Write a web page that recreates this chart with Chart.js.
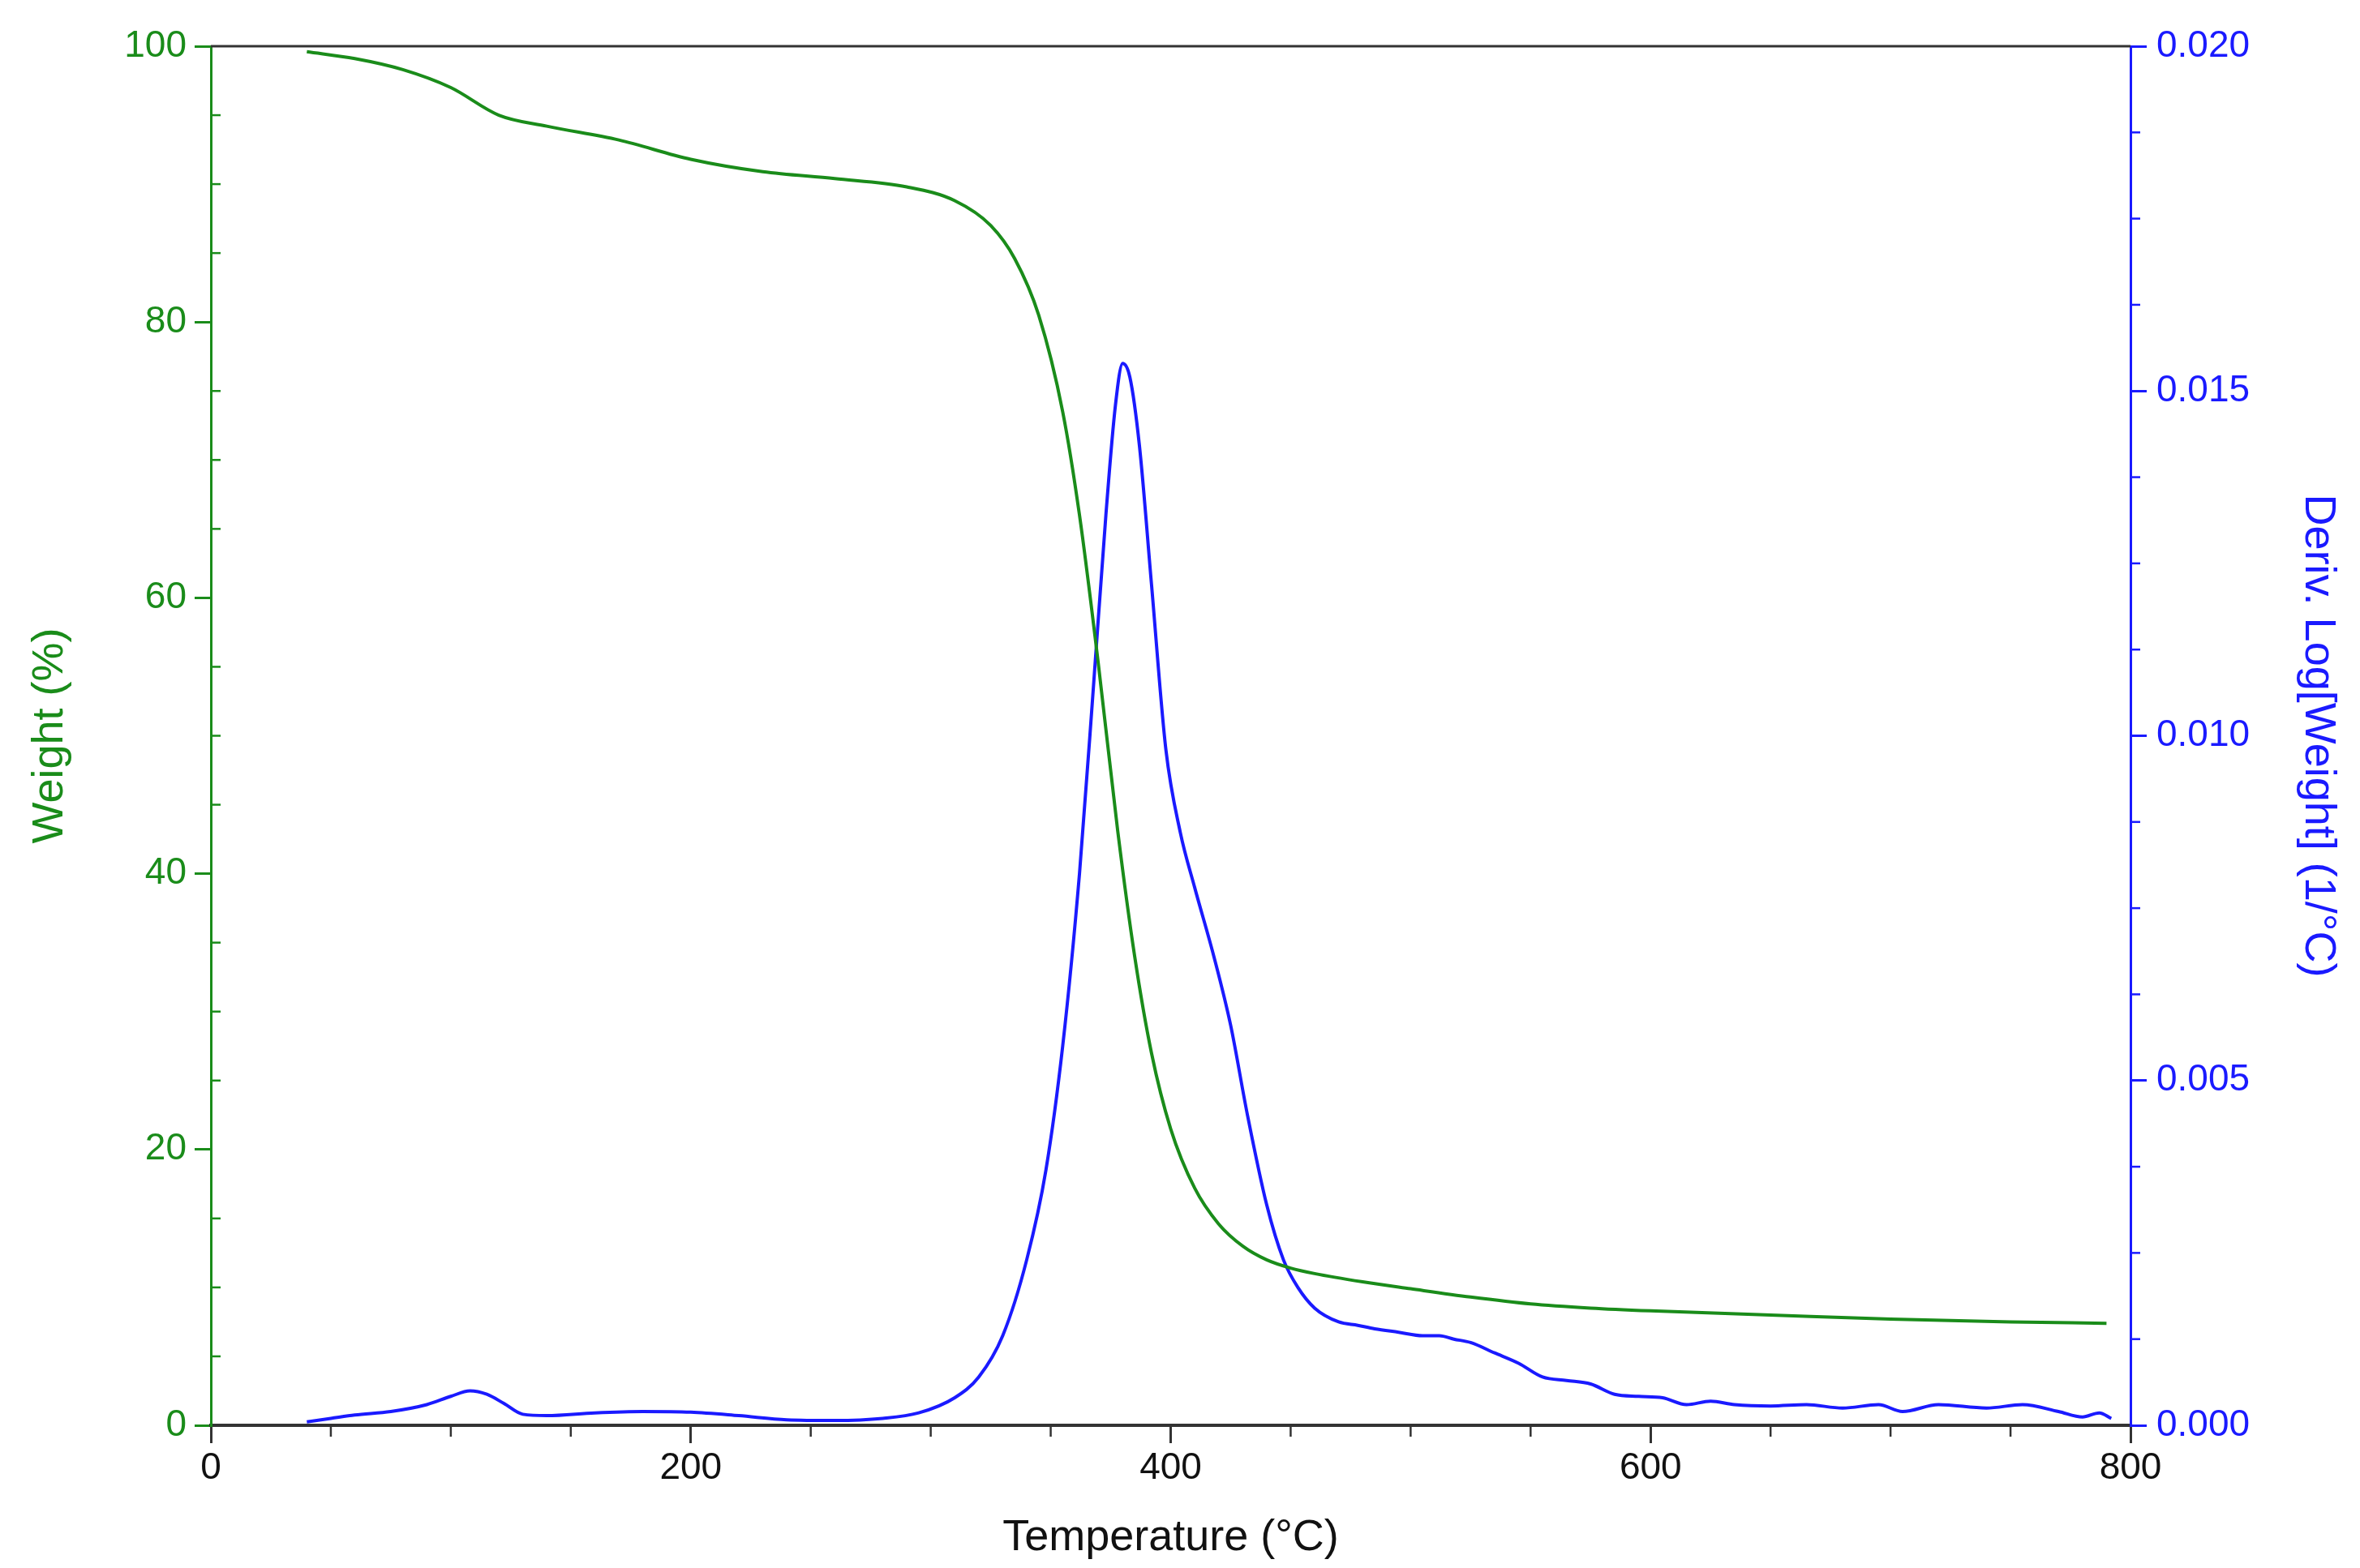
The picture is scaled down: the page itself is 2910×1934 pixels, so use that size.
<!DOCTYPE html>
<html>
<head>
<meta charset="utf-8">
<script src="https://cdn.jsdelivr.net/npm/chart.js@4"></script>
<style>
html, body { margin: 0; padding: 0; background: #fff; }
#wrap { width: 2910px; height: 1934px; }
</style>
</head>
<body>
<div id="wrap"><canvas id="tga"></canvas></div>
<script>
const tempWeight = [40, 60, 80, 100, 120, 140, 170, 200, 230, 260, 290, 310, 325, 335, 345, 355, 362, 370, 378, 385, 392, 400, 410, 420, 430, 440, 450, 460, 480, 500, 525, 550, 575, 600, 650, 700, 750, 790]
const weight = [99.6, 99.1, 98.3, 97.0, 95.0, 94.2, 93.2, 91.8, 90.9, 90.4, 89.8, 88.8, 87.0, 84.6, 80.5, 73.5, 66.0, 55.0, 43.0, 34.0, 27.0, 21.5, 17.2, 14.6, 13.0, 12.0, 11.4, 11.0, 10.4, 9.9, 9.3, 8.8, 8.5, 8.3, 8.0, 7.7, 7.5, 7.4]

const tempDeriv = [40, 50, 60, 75, 90, 100, 108, 115, 122, 130, 140, 160, 180, 200, 220, 240, 260, 280, 295, 310, 320, 330, 340, 348, 355, 362, 368, 373, 377, 380, 383, 387, 392, 398, 404, 410, 418, 425, 432, 440, 447, 453, 460, 470, 478, 485, 495, 505, 512, 518, 525, 535, 545, 555, 565, 575, 585, 595, 605, 615, 625, 635, 650, 665, 680, 695, 705, 720, 740, 755, 770, 780, 787, 792]
const deriv = [0.00005, 0.0001, 0.00015, 0.0002, 0.0003, 0.00042, 0.0005, 0.00045, 0.00032, 0.00016, 0.00014, 0.00018, 0.0002, 0.00019, 0.00014, 0.00008, 0.00007, 0.0001, 0.00018, 0.0004, 0.0007, 0.0013, 0.0024, 0.0037, 0.0055, 0.0080, 0.0108, 0.0132, 0.0148, 0.0154, 0.0152, 0.0142, 0.0122, 0.0098, 0.0086, 0.0078, 0.0068, 0.0058, 0.0045, 0.0032, 0.0024, 0.0020, 0.0017, 0.0015, 0.00145, 0.0014, 0.00135, 0.0013, 0.0013, 0.00125, 0.0012, 0.00105, 0.0009, 0.0007, 0.00065, 0.0006, 0.00045, 0.00042, 0.0004, 0.0003, 0.00035, 0.0003, 0.00028, 0.0003, 0.00025, 0.0003, 0.0002, 0.0003, 0.00025, 0.0003, 0.0002, 0.00012, 0.00018, 0.0001]

const xTicks = [0, 200, 400, 600, 800]
const weightTicks = [0, 20, 40, 60, 80, 100]
const derivTicks = [0, 0.005, 0.01, 0.015, 0.02]

const GREEN = '#1a8c1a'
const BLUE = '#1a1aff'
const FONT = 'Liberation Sans, Arial, sans-serif'

const toXY = (xs, ys) => xs.map((x, i) => ({ x, y: ys[i] }))

const frame = {
    id: 'frame',
    afterDraw(chart) {
        const { ctx, chartArea: a, scales } = chart
        ctx.save()
        ctx.lineWidth = 3
        ctx.strokeStyle = '#333'
        ctx.beginPath()
        ctx.moveTo(a.left, a.top)
        ctx.lineTo(a.right, a.top)
        ctx.stroke()
        // minor ticks
        ctx.lineWidth = 2.5
        for (let v = 50; v < 800; v += 50) {
            if (v % 200 === 0) continue
            const px = scales.x.getPixelForValue(v)
            ctx.beginPath(); ctx.moveTo(px, a.bottom); ctx.lineTo(px, a.bottom + 14); ctx.stroke()
        }
        ctx.strokeStyle = GREEN
        for (let v = 5; v < 100; v += 5) {
            if (v % 20 === 0) continue
            const py = scales.y.getPixelForValue(v)
            ctx.beginPath(); ctx.moveTo(a.left, py); ctx.lineTo(a.left + 12, py); ctx.stroke()
        }
        ctx.strokeStyle = BLUE
        for (let v = 0.00125; v < 0.02; v += 0.00125) {
            if (Math.abs(v / 0.005 - Math.round(v / 0.005)) < 1e-6) continue
            const py = scales.y2.getPixelForValue(v)
            ctx.beginPath(); ctx.moveTo(a.right, py); ctx.lineTo(a.right + 12, py); ctx.stroke()
        }
        ctx.restore()
    }
}

new Chart(document.getElementById('tga'), {
    type: 'line',
    data: {
        datasets: [
            { data: toXY(tempWeight, weight), yAxisID: 'y', borderColor: GREEN, borderWidth: 4, pointRadius: 0, cubicInterpolationMode: 'monotone' },
            { data: toXY(tempDeriv, deriv), yAxisID: 'y2', borderColor: BLUE, borderWidth: 4, pointRadius: 0, cubicInterpolationMode: 'monotone' }
        ]
    },
    plugins: [frame],
    options: {
        responsive: true,
        maintainAspectRatio: false,
        animation: false,
        devicePixelRatio: 1,
        layout: { padding: { top: 57, right: 0, left: 0, bottom: 0 } },
        plugins: { legend: { display: false }, tooltip: { enabled: false } },
        scales: {
            x: {
                type: 'linear', min: 0, max: 800,
                afterBuildTicks: s => { s.ticks = xTicks.map(value => ({ value })) },
                afterFit: s => { s.height = 176 },
                grid: { drawOnChartArea: false, color: '#333', lineWidth: 3, tickLength: 22 },
                border: { color: '#333', width: 4 },
                ticks: { color: '#111', font: { family: FONT, size: 46 }, padding: 4 },
                title: { display: true, text: 'Temperature (°C)', color: '#111', font: { family: FONT, size: 54 }, padding: { top: 8 } }
            },
            y: {
                position: 'left', min: 0, max: 100,
                afterBuildTicks: s => { s.ticks = weightTicks.map(value => ({ value })) },
                afterFit: s => { s.width = 260 },
                grid: { drawOnChartArea: false, color: GREEN, lineWidth: 3, tickLength: 20 },
                border: { color: GREEN, width: 3 },
                ticks: { color: GREEN, font: { family: FONT, size: 46 }, padding: 10 },
                title: { display: true, text: 'Weight (%)', color: GREEN, font: { family: FONT, size: 54 }, padding: { top: 30, bottom: 40 } }
            },
            y2: {
                position: 'right', min: 0, max: 0.02,
                afterBuildTicks: s => { s.ticks = derivTicks.map(value => ({ value })) },
                afterFit: s => { s.width = 283 },
                grid: { drawOnChartArea: false, color: BLUE, lineWidth: 3, tickLength: 20 },
                border: { color: BLUE, width: 3 },
                ticks: { color: BLUE, font: { family: FONT, size: 46 }, padding: 12, callback: v => v.toFixed(3) },
                title: { display: true, text: 'Deriv. Log[Weight] (1/°C)', color: BLUE, font: { family: FONT, size: 54 }, padding: { top: 20 } }
            }
        }
    }
})
</script>
</body>
</html>
